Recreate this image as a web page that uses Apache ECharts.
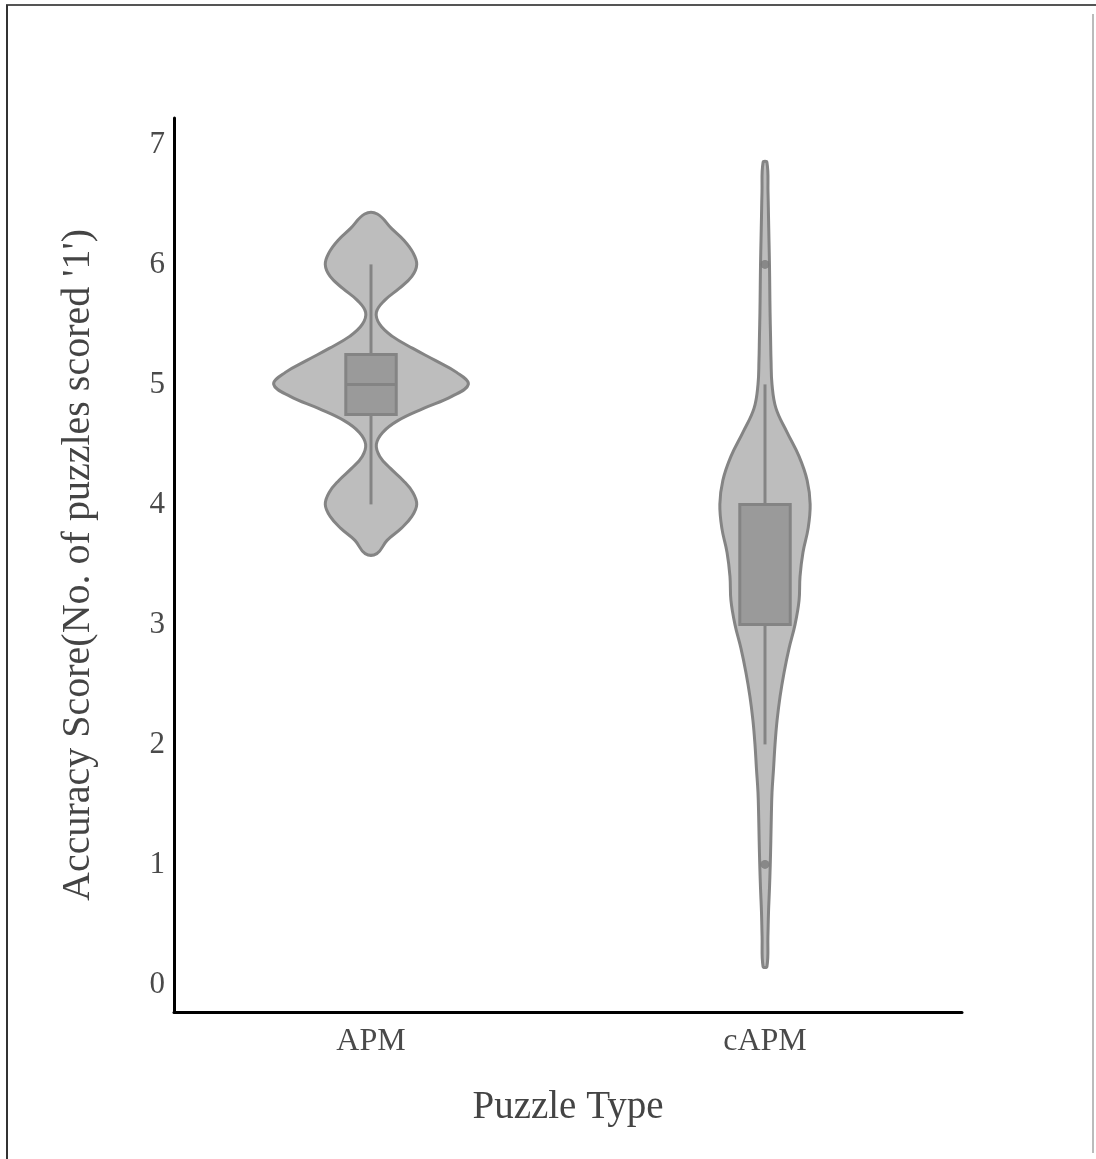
<!DOCTYPE html>
<html>
<head>
<meta charset="utf-8">
<script src="https://cdn.jsdelivr.net/npm/echarts@6/dist/echarts.min.js"></script>
<style>
  html, body { margin: 0; padding: 0; background: #fff; }
  #chart { width: 1096px; height: 1159px; }
</style>
</head>
<body>
<div id="chart"></div>
<script>
// Puzzle types on the x axis
const categories = ['APM', 'cAPM'];
// Labelled accuracy scores on the y axis
const yTicks = [0, 1, 2, 3, 4, 5, 6, 7];

// Density profile of each group: score level and relative density (1 = widest point)
const apmLevels  = [3.59, 3.7, 3.8, 3.9, 4.0, 4.1, 4.2, 4.3, 4.4, 4.5, 4.6, 4.7, 4.8, 4.9, 5.0,
                    5.1, 5.2, 5.3, 5.4, 5.5, 5.6, 5.7, 5.8, 5.9, 6.0, 6.1, 6.2, 6.3, 6.42];
const apmDensity = [0.06, 0.165, 0.31, 0.42, 0.47, 0.43, 0.33, 0.2, 0.09, 0.055, 0.12, 0.28, 0.54, 0.83, 1.0,
                    0.88, 0.66, 0.43, 0.22, 0.09, 0.055, 0.14, 0.29, 0.42, 0.47, 0.43, 0.34, 0.21, 0.065];

const capmLevels  = [0.15, 0.4, 0.6, 0.8, 1.0, 1.2, 1.4, 1.6, 1.8, 2.0, 2.2, 2.4, 2.6, 2.8, 3.0, 3.2, 3.4,
                     3.6, 3.8, 4.0, 4.2, 4.4, 4.6, 4.8, 5.0, 5.2, 5.4, 5.6, 5.8, 6.0, 6.2, 6.4, 6.6, 6.85];
const capmDensity = [0.02, 0.03, 0.036, 0.046, 0.054, 0.06, 0.065, 0.072, 0.088, 0.103, 0.124, 0.155, 0.196,
                     0.247, 0.309, 0.35, 0.36, 0.39, 0.443, 0.464, 0.433, 0.35, 0.227, 0.113, 0.072, 0.062,
                     0.057, 0.052, 0.049, 0.046, 0.041, 0.036, 0.031, 0.02];

// Box statistics: [lower whisker, Q1, median, Q3, upper whisker]
const apmBox  = [4, 4.75, 5, 5.25, 6];
const capmBox = [2, 3, 4, 4, 5];

// Scores lying beyond the whiskers
const capmOutliers = [6, 1];

const profiles = [
  { levels: apmLevels, density: apmDensity },
  { levels: capmLevels, density: capmDensity }
];

const LINE = '#848484';
const VIOLIN_FILL = '#bdbdbd';
const BOX_FILL = '#9a9a9a';
const FONT = '"Liberation Serif", "Times New Roman", serif';

function renderViolin(params, api) {
  const ci = api.value(0);
  const prof = profiles[ci];
  const halfMax = api.size([1, 0])[0] * 0.247;
  const right = [], left = [];
  for (let i = 0; i < prof.levels.length; i++) {
    const p = api.coord([ci, prof.levels[i]]);
    const w = prof.density[i] * halfMax;
    right.push([p[0] + w, p[1]]);
    left.unshift([p[0] - w, p[1]]);
  }
  return {
    type: 'polygon',
    shape: { points: right.concat(left), smooth: 0.4 },
    style: { fill: VIOLIN_FILL, stroke: LINE, lineWidth: 3 }
  };
}

function renderBox(params, api) {
  const ci = api.value(0);
  const half = api.size([1, 0])[0] * 0.064;
  const lo = api.coord([ci, api.value(1)]);
  const q1 = api.coord([ci, api.value(2)]);
  const md = api.coord([ci, api.value(3)]);
  const q3 = api.coord([ci, api.value(4)]);
  const hi = api.coord([ci, api.value(5)]);
  const x = lo[0];
  const lineStyle = { stroke: LINE, lineWidth: 3 };
  return {
    type: 'group',
    children: [
      { type: 'line', shape: { x1: x, y1: lo[1], x2: x, y2: q1[1] }, style: lineStyle },
      { type: 'line', shape: { x1: x, y1: q3[1], x2: x, y2: hi[1] }, style: lineStyle },
      { type: 'rect', shape: { x: x - half, y: q3[1], width: half * 2, height: q1[1] - q3[1] },
        style: { fill: BOX_FILL, stroke: LINE, lineWidth: 3 } },
      { type: 'line', shape: { x1: x - half, y1: md[1], x2: x + half, y2: md[1] }, style: lineStyle }
    ]
  };
}

const chart = echarts.init(document.getElementById('chart'), null, { renderer: 'canvas' });

chart.setOption({
  animation: false,
  backgroundColor: '#ffffff',
  grid: { left: 174, right: 134, top: 118, bottom: 147 },
  xAxis: {
    type: 'category',
    data: categories,
    boundaryGap: true,
    axisLine: { show: true, onZero: false, lineStyle: { color: '#000', width: 3 } },
    axisTick: { show: false },
    splitLine: { show: false },
    axisLabel: { fontSize: 32, color: '#4a4a4a', fontFamily: FONT, margin: 14 },
    name: 'Puzzle Type',
    nameLocation: 'middle',
    nameGap: 76,
    nameTextStyle: { fontSize: 39, color: '#444', fontFamily: FONT }
  },
  yAxis: {
    type: 'value',
    min: -0.23,
    max: 7.22,
    axisLine: { show: true, onZero: false, lineStyle: { color: '#000', width: 3 } },
    axisTick: { show: false },
    splitLine: { show: false },
    axisLabel: { customValues: yTicks, fontSize: 31, color: '#4a4a4a', fontFamily: FONT, margin: 9 },
    name: "Accuracy Score(No. of puzzles scored '1')",
    nameLocation: 'middle',
    nameGap: 76,
    nameTextStyle: { fontSize: 40, color: '#444', fontFamily: FONT }
  },
  graphic: [
    { type: 'line', shape: { x1: 6, y1: 5, x2: 1096, y2: 5 }, style: { stroke: '#555', lineWidth: 2 }, silent: true },
    { type: 'line', shape: { x1: 7, y1: 5, x2: 7, y2: 1159 }, style: { stroke: '#333', lineWidth: 2 }, silent: true },
    { type: 'line', shape: { x1: 1093, y1: 14, x2: 1093, y2: 1153 }, style: { stroke: '#bbb', lineWidth: 2 }, silent: true }
  ],
  series: [
    {
      name: 'density',
      type: 'custom',
      renderItem: renderViolin,
      data: categories.map((c, i) => [i]),
      z: 1
    },
    {
      name: 'box',
      type: 'custom',
      renderItem: renderBox,
      data: [[0].concat(apmBox), [1].concat(capmBox)],
      z: 2
    },
    {
      name: 'outliers',
      type: 'scatter',
      symbolSize: 9,
      itemStyle: { color: '#7a7a7a' },
      data: capmOutliers.map(v => [1, v]),
      z: 3
    }
  ]
});
</script>
</body>
</html>
